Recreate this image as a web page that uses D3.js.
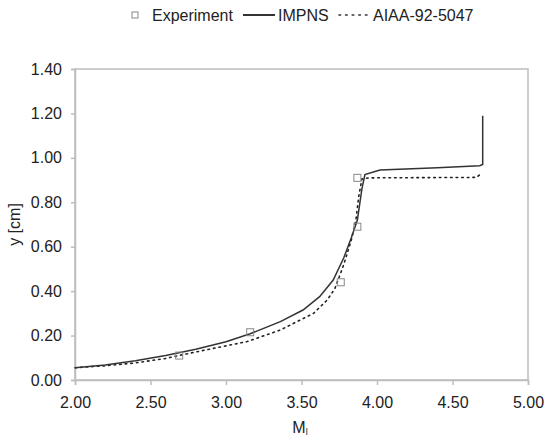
<!DOCTYPE html>
<html><head><meta charset="utf-8">
<script src="https://cdn.jsdelivr.net/npm/d3@7/dist/d3.min.js"></script>
<style>body{margin:0;background:#fff}svg{display:block}text{font-family:"Liberation Sans",Arial,sans-serif;fill:#222}</style>
</head><body><svg id="c" width="548" height="439"></svg>
<script>
const xTicks = [2.00, 2.50, 3.00, 3.50, 4.00, 4.50, 5.00];
const yTicks = [0.00, 0.20, 0.40, 0.60, 0.80, 1.00, 1.20, 1.40];
const impnsM = [2.00, 2.20, 2.40, 2.60, 2.80, 3.00, 3.16, 3.36, 3.51, 3.62, 3.71, 3.78, 3.83, 3.87, 3.90, 3.92, 4.02, 4.40, 4.68, 4.70, 4.70];
const impnsY = [0.055, 0.068, 0.087, 0.110, 0.138, 0.172, 0.208, 0.263, 0.315, 0.375, 0.450, 0.550, 0.640, 0.720, 0.860, 0.925, 0.945, 0.955, 0.965, 0.970, 1.190];
const aiaaM = [2.00, 2.20, 2.40, 2.60, 2.70, 2.90, 3.14, 3.36, 3.58, 3.67, 3.72, 3.78, 3.83, 3.86, 3.88, 3.90, 3.95, 4.66, 4.69];
const aiaaY = [0.055, 0.064, 0.077, 0.097, 0.112, 0.140, 0.173, 0.225, 0.300, 0.360, 0.410, 0.520, 0.630, 0.720, 0.830, 0.905, 0.910, 0.912, 0.930];
const expM = [2.69, 3.16, 3.76, 3.87, 3.87];
const expY = [0.11, 0.215, 0.44, 0.69, 0.91];

const svg = d3.select("#c");
const L = 75, R = 528, T = 69, B = 380;
const x = d3.scaleLinear().domain([2, 5]).range([L, R]);
const y = d3.scaleLinear().domain([0, 1.4]).range([B, T]);
const grey = "#bdbdbd";

// frame
svg.append("rect").attr("x", L).attr("y", T).attr("width", R - L).attr("height", B - T)
  .attr("fill", "none").attr("stroke", grey).attr("stroke-width", 1.5);

const xAxis = svg.append("g").attr("transform", `translate(0,${B})`)
  .call(d3.axisBottom(x).tickValues(xTicks).tickFormat(d3.format(".2f")).tickSize(5).tickPadding(12));
const yAxis = svg.append("g").attr("transform", `translate(${L},0)`)
  .call(d3.axisLeft(y).tickValues(yTicks).tickFormat(d3.format(".2f")).tickSize(4).tickPadding(9));
[xAxis, yAxis].forEach(g => {
  g.select(".domain").attr("stroke", grey).attr("stroke-width", 1.5);
  g.selectAll(".tick line").attr("stroke", grey).attr("stroke-width", 1.5);
  g.selectAll(".tick text").attr("font-size", 16).attr("fill", "#222")
    .style("font-family", '"Liberation Sans", Arial, sans-serif');
});

const line = d3.line().x(d => x(d[0])).y(d => y(d[1]));
svg.append("path").datum(aiaaM.map((m, i) => [m, aiaaY[i]]))
  .attr("d", line).attr("fill", "none").attr("stroke", "#222").attr("stroke-width", 1.6)
  .attr("stroke-dasharray", "1.6,4").attr("stroke-linecap", "round");
svg.append("path").datum(impnsM.map((m, i) => [m, impnsY[i]]))
  .attr("d", line).attr("fill", "none").attr("stroke", "#333").attr("stroke-width", 1.5);

svg.selectAll("rect.exp").data(expM.map((m, i) => [m, expY[i]])).enter().append("rect")
  .attr("class", "exp").attr("x", d => x(d[0]) - 3.5).attr("y", d => y(d[1]) - 3.5)
  .attr("width", 7).attr("height", 7).attr("fill", "none").attr("stroke", "#888").attr("stroke-width", 1);

// labels
svg.append("text").attr("transform", `translate(20,${(T + B) / 2}) rotate(-90)`)
  .attr("text-anchor", "middle").attr("font-size", 16).text("y [cm]");
const xl = svg.append("text").attr("x", 300).attr("y", 433).attr("text-anchor", "middle").attr("font-size", 16);
xl.append("tspan").text("M");
xl.append("tspan").attr("font-size", 9).attr("dy", 2).text("l");

// legend
const lg = svg.append("g");
lg.append("rect").attr("x", 132).attr("y", 12).attr("width", 6).attr("height", 6)
  .attr("fill", "none").attr("stroke", "#888");
lg.append("text").attr("x", 152).attr("y", 21).attr("font-size", 16).text("Experiment");
lg.append("line").attr("x1", 243).attr("x2", 275).attr("y1", 15).attr("y2", 15)
  .attr("stroke", "#333").attr("stroke-width", 2);
lg.append("text").attr("x", 278).attr("y", 21).attr("font-size", 16).text("IMPNS");
lg.append("line").attr("x1", 339).attr("x2", 368).attr("y1", 15).attr("y2", 15)
  .attr("stroke", "#333").attr("stroke-width", 1.6).attr("stroke-dasharray", "1.6,5").attr("stroke-linecap", "round");
lg.append("text").attr("x", 373).attr("y", 21).attr("font-size", 16).text("AIAA-92-5047");
</script></body></html>
